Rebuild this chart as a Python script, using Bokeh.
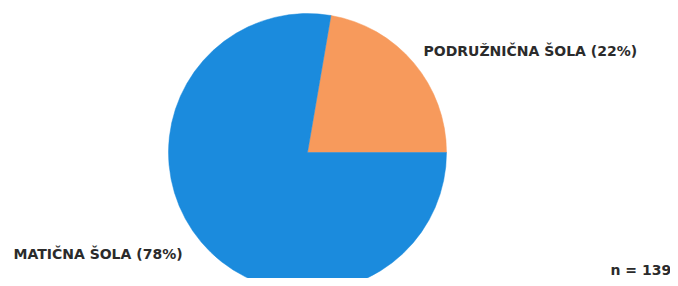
import math
from bokeh.plotting import figure
from bokeh.models import Range1d
from bokeh.core.properties import value
from bokeh.embed import file_html
from bokeh.resources import INLINE

categories = ["PODRUŽNIČNA ŠOLA", "MATIČNA ŠOLA"]
counts = [31, 108]
colors = ["#F79A5C", "#1B8BDD"]
n_total = 139

W, H = 670, 278
p = figure(width=W, height=H, output_backend="svg", toolbar_location=None,
           x_range=Range1d(0, W), y_range=Range1d(0, H), min_border=0)
p.axis.visible = False
p.grid.visible = False
p.outline_line_color = None
p.background_fill_color = "white"

cx, cy, r = 307, 126, 139
total = sum(counts)
starts, ends = [], []
acc = 0.0
for v in counts:
    starts.append(2 * math.pi * acc / total)
    acc += v
    ends.append(2 * math.pi * acc / total)

for s, e, c in zip(starts, ends, colors):
    p.wedge(x=cx, y=cy, radius=r, start_angle=s, end_angle=e,
            fill_color=c, line_color=c, line_width=0.5)

labels = [f"{c} ({round(100 * v / total)}%)" for c, v in zip(categories, counts)]
label_pos = [(423, 228), (13, 25)]
font = value("DejaVu Sans")
for (lx, ly), t in zip(label_pos, labels):
    p.text(x=[lx], y=[ly], text=[t], text_font=font, text_font_size="14px",
           text_font_style="bold", text_color="#2b2b2b",
           text_align="left", text_baseline="middle")

p.text(x=[610], y=[9], text=[f"n = {n_total}"], text_font=font,
       text_font_size="14px", text_font_style="bold", text_color="#2b2b2b",
       text_align="left", text_baseline="middle")

open("out.html", "w").write(file_html(p, INLINE))
